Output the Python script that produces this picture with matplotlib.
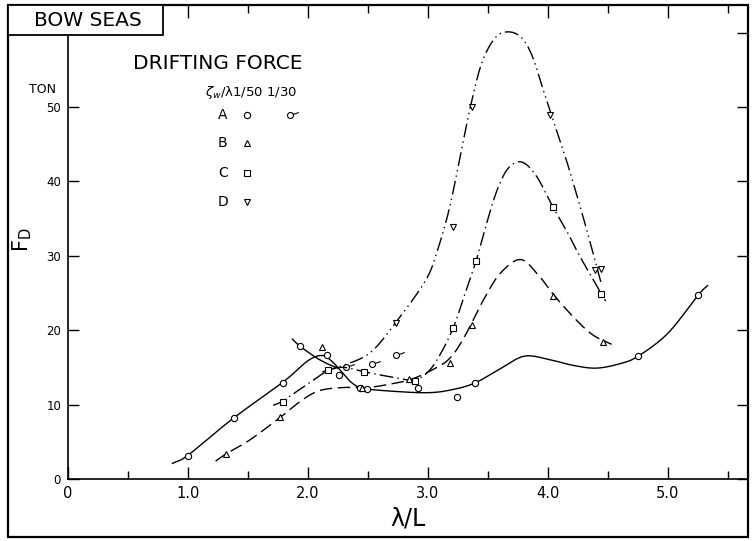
import numpy as np
import matplotlib
matplotlib.use('Agg')
import matplotlib.pyplot as plt
from matplotlib.path import Path
from matplotlib.patches import Rectangle

plt.rcParams['font.family'] = ['DejaVu Sans']

# curve A (1/50) - solid
a_x = [0.87, 1.0, 1.38, 1.79, 2.0, 2.12, 2.2, 2.27, 2.36, 2.46, 2.7, 3.0, 3.2, 3.39, 3.6, 3.8, 4.0, 4.2, 4.4, 4.6, 4.75, 5.0, 5.25, 5.33]
a_y = [2.1, 3.2, 8.2, 13.0, 15.9, 16.6, 15.8, 14.6, 13.0, 12.2, 11.8, 11.6, 12.0, 12.9, 14.8, 16.5, 16.1, 15.3, 14.9, 15.5, 16.5, 19.6, 24.7, 26.0]
# curve A (1/30) - solid, short
a30_x = [1.87, 1.93, 2.06, 2.16, 2.25]
a30_y = [18.8, 17.9, 16.4, 15.5, 14.9]
# curve B - dashed
b_x = [1.23, 1.32, 1.52, 1.77, 1.95, 2.1, 2.3, 2.5, 2.7, 2.86, 3.04, 3.18, 3.3, 3.46, 3.6, 3.77, 3.92, 4.04, 4.21, 4.37, 4.53]
b_y = [2.4, 3.4, 5.3, 8.3, 10.6, 11.9, 12.3, 12.3, 12.8, 13.4, 14.7, 16.2, 19.0, 24.0, 27.6, 29.5, 27.4, 24.9, 21.8, 19.4, 18.1]
# curve C - dash-dot
c_x = [1.71, 1.79, 2.0, 2.17, 2.3, 2.47, 2.7, 2.88, 3.0, 3.1, 3.21, 3.3, 3.4, 3.5, 3.58, 3.67, 3.78, 3.9, 4.04, 4.16, 4.27, 4.48]
c_y = [9.9, 10.5, 12.8, 14.6, 15.0, 14.4, 13.7, 13.3, 14.4, 16.7, 20.3, 24.5, 29.3, 35.0, 39.0, 41.8, 42.6, 40.8, 36.6, 33.2, 29.8, 23.9]
# curve D - dash-dot-dot
d_x = [2.12, 2.3, 2.52, 2.73, 2.98, 3.08, 3.18, 3.28, 3.36, 3.45, 3.56, 3.67, 3.78, 3.87, 3.96, 4.06, 4.16, 4.3, 4.44]
d_y = [14.4, 15.3, 17.0, 21.0, 26.7, 30.8, 36.5, 44.3, 50.5, 56.0, 59.3, 60.1, 59.3, 56.8, 52.3, 47.4, 42.5, 34.8, 26.5]

# measured points
pa_x = [1.0, 1.38, 1.79, 1.93, 2.16, 2.26, 2.43, 2.49, 2.92, 3.24, 3.39, 4.75, 5.25]
pa_y = [3.1, 8.2, 12.9, 17.9, 16.7, 14.0, 12.2, 12.1, 12.2, 11.0, 12.9, 16.5, 24.7]
pa30_x = [2.32, 2.53, 2.73]
pa30_y = [15.0, 15.4, 16.6]
pb_x = [1.32, 1.77, 2.12, 2.45, 2.84, 3.18, 3.37, 4.04, 4.46]
pb_y = [3.4, 8.3, 17.8, 12.2, 13.4, 15.6, 20.7, 24.6, 18.4]
pc_x = [1.79, 2.17, 2.47, 2.89, 3.21, 3.40, 4.04, 4.44]
pc_y = [10.4, 14.6, 14.4, 13.2, 20.3, 29.3, 36.6, 24.9]
pd_x = [2.73, 3.21, 3.37, 4.02, 4.39, 4.44]
pd_y = [21.0, 33.9, 50.0, 48.9, 28.1, 28.2]

x_ticks = [0, 1, 2, 3, 4, 5]
x_labels = ['0', '1.0', '2.0', '3.0', '4.0', '5.0']
y_ticks = [0, 10, 20, 30, 40, 50, 60]
y_labels = ['0', '10', '20', '30', '40', '50', '']


def smooth(xs, ys, n=24):
    # catmull-rom through the read points
    pts = np.column_stack([xs, ys]).astype(float)
    p = np.vstack([2 * pts[0] - pts[1], pts, 2 * pts[-1] - pts[-2]])
    out = []
    t = np.linspace(0, 1, n, endpoint=False)[:, None]
    for i in range(1, len(p) - 2):
        p0, p1, p2, p3 = p[i - 1], p[i], p[i + 1], p[i + 2]
        seg = 0.5 * (2 * p1 + (-p0 + p2) * t + (2 * p0 - 5 * p1 + 4 * p2 - p3) * t ** 2
                     + (-p0 + 3 * p1 - 3 * p2 + p3) * t ** 3)
        out.append(seg)
    out.append(pts[-1:])
    s = np.vstack(out)
    return s[:, 0], s[:, 1]


# circle with a short tail (1/30 symbol)
circ = Path.unit_circle()
tail = Path([(0.9, 0.35), (2.8, 1.0)], [Path.MOVETO, Path.LINETO])
tail_marker = Path.make_compound_path(circ, tail)

fig = plt.figure(figsize=(7.52, 5.41), dpi=100)
ax = fig.add_axes([68 / 752, 62 / 541, 680 / 752, 474 / 541])

lw = 1.0
k = 'black'
ax.plot(*smooth(a_x, a_y), color=k, lw=lw)
ax.plot(*smooth(a30_x, a30_y), color=k, lw=lw)
ax.plot(*smooth(b_x, b_y), color=k, lw=lw, dashes=(9, 4))
ax.plot(*smooth(c_x, c_y), color=k, lw=lw, dashes=(10, 3, 1, 3))
ax.plot(*smooth(d_x, d_y), color=k, lw=lw, dashes=(10, 3, 1, 3, 1, 3))

mk = dict(color=k, ls='none', mfc='white', mew=0.8, ms=4.5, zorder=3)
ax.plot(pa_x, pa_y, marker='o', **mk)
ax.plot(pb_x, pb_y, marker='^', **mk)
ax.plot(pc_x, pc_y, marker='s', **dict(mk, ms=4))
ax.plot(pd_x, pd_y, marker='v', **mk)
ax.plot(pa30_x, pa30_y, marker=tail_marker, color=k, ls='none', mfc='none', mew=0.8, ms=12, zorder=3)

ax.set_xlim(0, 680 / 120)
ax.set_ylim(0, 474 / 7.44)
ax.set_xticks(x_ticks)
ax.set_xticklabels(x_labels, fontsize=10.5)
ax.set_xticks(np.arange(0.5, 5.6, 1.0), minor=True)
ax.set_yticks(y_ticks)
ax.set_yticklabels(y_labels, fontsize=8.5)
ax.tick_params(axis='x', which='major', direction='in', top=True, length=9, width=1, pad=5)
ax.tick_params(axis='x', which='minor', direction='in', top=True, length=6, width=1)
ax.tick_params(axis='y', which='major', direction='in', right=True, length=8, width=1, pad=5)
for s in ax.spines.values():
    s.set_linewidth(1.2)
ax.set_xlabel('λ/L', fontsize=17, labelpad=4)

# legend block drawn by hand
ax.text(1.25, 55.9, 'DRIFTING FORCE', fontsize=14.5, ha='center', va='center')
ax.text(1.14, 52.0, r'$\zeta_w$/λ1/50 1/30', fontsize=9.5, ha='left', va='center')
leg_y = [48.9, 45.1, 41.1, 37.2]
leg_txt = ['A', 'B', 'C', 'D']
leg_mk = ['o', '^', 's', 'v']
for yy, tt, mm in zip(leg_y, leg_txt, leg_mk):
    ax.text(1.29, yy, tt, fontsize=10, ha='center', va='center')
    ax.plot([1.49], [yy], marker=mm, **mk)
ax.plot([1.85], [leg_y[0]], marker=tail_marker, color=k, ls='none', mfc='none', mew=0.8, ms=12)

ax.text(-0.21, 52.3, 'TON', fontsize=9, ha='center', va='center', clip_on=False)
fig.text(22 / 752, 1 - 240 / 541, r'F$_{\rm D}$', fontsize=15, rotation=90, ha='center', va='center')

# outer frame and title box
fig.add_artist(Rectangle((8 / 752, 4 / 541), 740 / 752, 532 / 541, transform=fig.transFigure,
                         fill=False, lw=1.6, ec=k))
fig.add_artist(Rectangle((8 / 752, 1 - 35 / 541), 155 / 752, 30 / 541, transform=fig.transFigure,
                         fc='white', lw=1.3, ec=k, zorder=5))
fig.text(88 / 752, 1 - 20 / 541, 'BOW SEAS', fontsize=14.5, ha='center', va='center', zorder=6)

fig.savefig('out.png', dpi=100)
